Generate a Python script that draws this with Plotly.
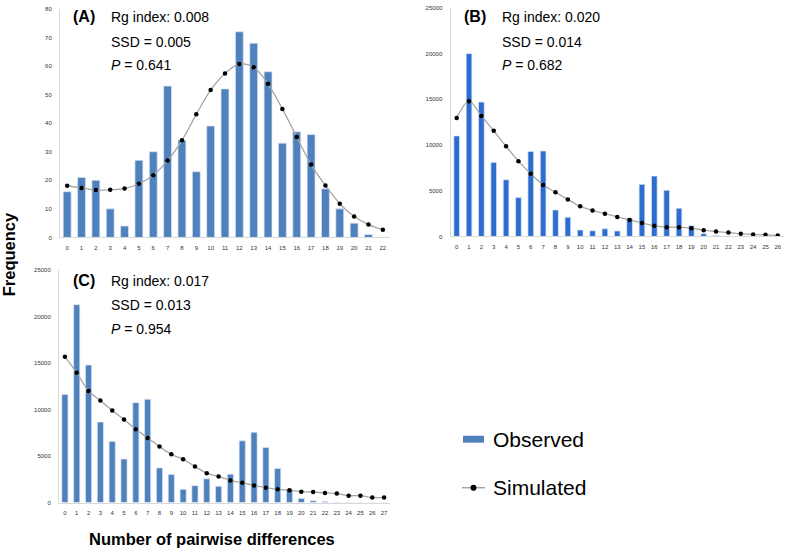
import plotly.graph_objects as go

W, H = 787, 553

# ---------------- data ----------------
cats_a = list(range(0, 23))
obs_a = [16, 21, 20, 10, 4, 27, 30, 53, 34, 23, 39, 52, 72, 68, 58, 33, 37, 36, 17, 10, 5, 1, 0]
sim_a = [18.1, 17.3, 16.6, 16.7, 17.1, 18.8, 21.8, 26.9, 34.0, 43.1, 51.6, 57.4, 60.7, 59.6,
         53.8, 45.0, 35.2, 25.5, 18.2, 11.8, 7.3, 4.5, 2.7]

cats_b = list(range(0, 27))
obs_b = [11000, 20000, 14700, 8100, 6200, 4250, 9300, 9350, 2900, 2100, 700, 620, 830, 590,
         2020, 5700, 6600, 5050, 3080, 1170, 300, 110, 60, 0, 0, 0, 0]
sim_b = [12970, 14780, 13190, 11560, 9860, 8240, 6860, 5640, 4840, 4050, 3290, 2850, 2490,
         2130, 1810, 1480, 1160, 1010, 1010, 900, 690, 540, 430, 290, 220, 180, 110]

cats_c = list(range(0, 28))
obs_c = [11630, 21280, 14790, 8650, 6560, 4680, 10740, 11100, 3720, 3010, 1420, 1810, 2550,
         1740, 3050, 6630, 7550, 5920, 3650, 1420, 430, 180, 100, 30, 0, 0, 0, 0]
sim_c = [15670, 13970, 11990, 10960, 9890, 8940, 7870, 6950, 6030, 5180, 4650, 3870, 3160,
         2800, 2380, 2130, 1840, 1600, 1420, 1310, 1170, 1130, 1030, 960, 740, 740, 530, 550]

stats_a = ["Rg index: 0.008", "SSD = 0.005", "<i>P</i> = 0.641"]
stats_b = ["Rg index: 0.020", "SSD = 0.014", "<i>P</i> = 0.682"]
stats_c = ["Rg index: 0.017", "SSD = 0.013", "<i>P</i> = 0.954"]
legend_names = ["Observed", "Simulated"]

FONT = "Arial, Liberation Sans, sans-serif"
BAR_A = "#4F81BD"
BAR_B = "#2E6DD0"
LINE_GRAY = "#A6A6A6"
AX_GRAY = "#D9D9D9"


def px_x(x):
    return x / W


def px_y(y):
    return 1 - y / H


fig = go.Figure()

panels = [
    ("x", "y", cats_a, obs_a, sim_a, BAR_A, 0.55),
    ("x2", "y2", cats_b, obs_b, sim_b, BAR_B, 0.46),
    ("x3", "y3", cats_c, obs_c, sim_c, BAR_A, 0.52),
]
for xa, ya, cats, obs, sim, col, bw in panels:
    fig.add_trace(go.Bar(
        x=cats, y=obs, xaxis=xa, yaxis=ya, width=bw,
        marker=dict(color=col, line=dict(color="#DDE7F3", width=0.7)),
        name=legend_names[0], showlegend=False))
    fig.add_trace(go.Scatter(
        x=cats, y=sim, xaxis=xa, yaxis=ya, mode="lines+markers",
        line=dict(color=LINE_GRAY, width=1.3, shape="spline"),
        marker=dict(color="black", size=4.5),
        name=legend_names[1], showlegend=False))

tickfont = dict(family=FONT, size=6, color="#333333")


def xaxis(domain, n, anchor):
    return dict(domain=domain, anchor=anchor, range=[-0.5, n - 0.5], tickmode="linear",
                tick0=0, dtick=1, showline=True, linecolor=AX_GRAY, linewidth=1,
                showgrid=False, zeroline=False, ticks="outside", ticklen=4,
                tickcolor="rgba(0,0,0,0)", tickfont=tickfont, ticklabeloverflow="allow")


def yaxis(domain, rng, dt, anchor):
    return dict(domain=domain, anchor=anchor, range=rng, tickmode="linear", tick0=0,
                dtick=dt, tickformat="d", showline=True, linecolor=AX_GRAY, linewidth=1,
                showgrid=False, zeroline=False, ticks="outside", ticklen=6,
                tickcolor="rgba(0,0,0,0)", tickfont=tickfont)


fig.update_layout(
    width=W, height=H,
    margin=dict(l=0, r=0, t=0, b=0),
    paper_bgcolor="white", plot_bgcolor="white",
    showlegend=False,
    xaxis=xaxis([px_x(60), px_x(390)], len(cats_a), "y"),
    yaxis=yaxis([px_y(237), px_y(6)], [0, 80], 10, "x"),
    xaxis2=xaxis([px_x(450.5), px_x(784)], len(cats_b), "y2"),
    yaxis2=yaxis([px_y(236), px_y(5)], [0, 25000], 5000, "x2"),
    xaxis3=xaxis([px_x(59), px_x(390)], len(cats_c), "y3"),
    yaxis3=yaxis([px_y(505), px_y(270)], [0, 25000], 5000, "x3"),
)

ann = []


def label(x, y, text, size, xanchor="left", angle=0):
    ann.append(dict(x=px_x(x), y=px_y(y), xref="paper", yref="paper", text=text,
                    showarrow=False, xanchor=xanchor, yanchor="middle", textangle=angle,
                    font=dict(family=FONT, size=size, color="black")))


for (lx, sx, ys, tag, stats) in [
    (72, 109, [14, 39, 63], "(A)", stats_a),
    (463, 500, [14, 39, 63], "(B)", stats_b),
    (72, 109, [281, 305, 330], "(C)", stats_c),
]:
    label(lx - 1, ys[0], "<b>" + tag + "</b>", 16)
    for yy, s in zip(ys, stats):
        label(sx, yy, s, 14)

label(9, 254, "<b>Frequency</b>", 16.5, xanchor="center", angle=-90)
label(212, 542, "<b>Number of pairwise differences</b>", 16.5, xanchor="center")

# legend (drawn to match the reference's wide swatch)
label(491, 441, legend_names[0], 21)
label(491, 490, legend_names[1], 21)
shapes = [
    dict(type="rect", xref="paper", yref="paper", x0=px_x(463), x1=px_x(484),
         y0=px_y(444.5), y1=px_y(437.5), fillcolor=BAR_A, line=dict(width=0)),
    dict(type="line", xref="paper", yref="paper", x0=px_x(462), x1=px_x(485),
         y0=px_y(490), y1=px_y(490), line=dict(color=LINE_GRAY, width=1.5)),
    dict(type="circle", xref="paper", yref="paper", x0=px_x(470.5), x1=px_x(476.5),
         y0=px_y(493), y1=px_y(487), fillcolor="black", line=dict(width=0)),
]
fig.update_layout(annotations=ann, shapes=shapes)

fig.write_html("out.html", config={"displayModeBar": False},
               post_script="document.body.style.margin='0';document.body.style.overflow='hidden';")
